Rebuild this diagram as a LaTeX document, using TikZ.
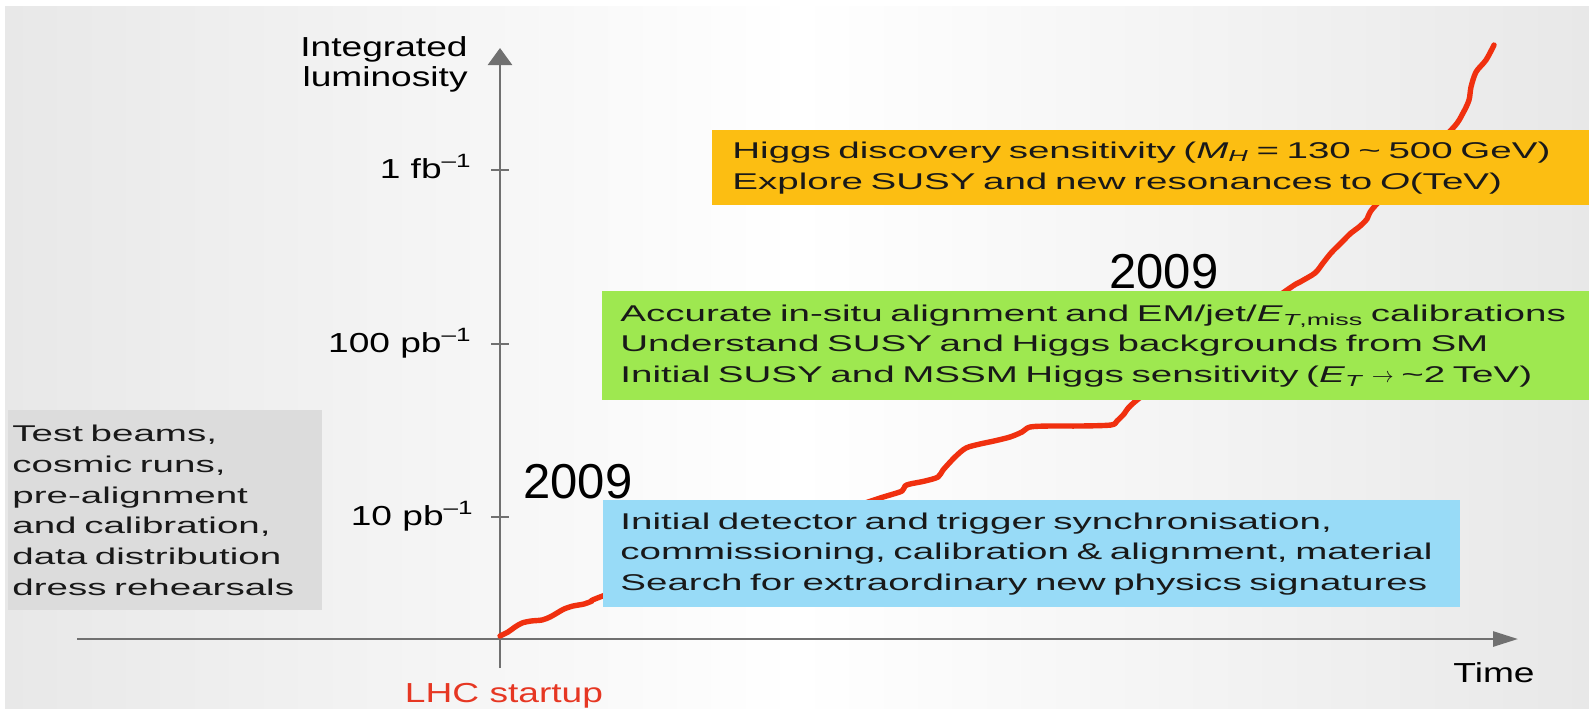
\documentclass[tikz,border=0pt]{standalone}
\usepackage{fontspec}
\setmainfont{Liberation Sans}
\newfontfamily\boxfont[FakeStretch=1.69]{Liberation Sans}
\newfontfamily\axisfont[FakeStretch=1.35]{Liberation Sans}
\usetikzlibrary{arrows.meta}

\definecolor{bggray}{RGB}{232,232,232}
\definecolor{axisgray}{RGB}{112,112,112}
\definecolor{curvered}{RGB}{240,48,15}
\definecolor{lhcred}{RGB}{230,55,35}
\definecolor{testgray}{RGB}{220,220,220}
\definecolor{phaseblue}{RGB}{152,219,247}
\definecolor{phasegreen}{RGB}{158,232,80}
\definecolor{phaseorange}{RGB}{252,190,18}

\begin{document}
\begin{tikzpicture}[x=0.5pt,y=-0.5pt]
\tikzstyle{axe}=[draw=axisgray,line width=1.35pt]
\tikzstyle{boite}=[anchor=north west,inner ysep=0pt,align=left,text=black!90,font=\boxfont\fontsize{11.4}{15.4}\selectfont]
\tikzstyle{lum}=[anchor=base east,inner sep=0pt,font=\axisfont\fontsize{13.75}{15}\selectfont]
\tikzstyle{annee}=[anchor=base west,inner sep=0pt,font=\fontsize{24.5}{28}\selectfont]
\tikzstyle{courbe}=[draw=curvered,line width=2.7pt,line cap=round,line join=round]

\useasboundingbox (0,0) rectangle (1589,708);
\shade[left color=bggray,right color=bggray,middle color=white] (5,6) rectangle (1589,708);

% axes
\coordinate (YB) at (500,668);
\coordinate (YT) at (500,48);
\coordinate (XL) at (77,639);
\coordinate (XR) at (1518,639);
\draw[axe,-{Triangle[length=8.5pt,width=12pt]}] (YB) -- (YT);
\draw[axe,-{Triangle[length=12.5pt,width=7.5pt]}] (XL) -- (XR);
\foreach \y in {170,344,517}
  \draw[axe] (491,\y) -- (509,\y);

\node[lum,anchor=east,align=right] (IL) at (468,64) {Integrated\\luminosity};
\node[lum] (L1) at (472,178) {1 fb\textsuperscript{–1}};
\node[lum] (L2) at (472,352) {100 pb\textsuperscript{–1}};
\node[lum] (L3) at (474,525) {10 pb\textsuperscript{–1}};
\node[lum,anchor=base] (T) at (1494,682) {Time};
\node[lum,anchor=base,text=lhcred] (LS) at (504,702) {LHC startup};

% luminosity curve, partly hidden by the boxes
\draw[courbe] plot[smooth,tension=0.5] coordinates {
  (500,636) (508,632) (515,627) (522,623) (531,621) (542,620) (550,617)
  (557,613) (564,609) (573,606) (584,604) (592,601) (600,597)
  (700,560) (800,525)
  (874,500) (890,495) (902,491) (905,486) (910,484) (925,481) (938,477)
  (943,470) (955,457) (966,448) (980,444) (994,441) (1010,437) (1022,432)
  (1030,427) (1050,426) (1080,426) (1111,425) (1117,421) (1124,414) (1137,400)
  (1210,345)
  (1287,290) (1300,282) (1315,273) (1323,263) (1331,253) (1341,243)
  (1351,233) (1359,227) (1367,219) (1374,207)
  (1415,165)
  (1453,128) (1463,113) (1469,100) (1471,87) (1476,72) (1486,60) (1494,45)};

\node[boite,fill=testgray,minimum width=157pt,minimum height=100pt,inner xsep=2pt,text width=153pt] (TB) at (8,410)
  {Test beams,\\ cosmic runs,\\ pre-alignment\\ and calibration,\\ data distribution\\ dress rehearsals};

\node[boite,fill=phaseblue,minimum width=428.5pt,minimum height=53.5pt,inner xsep=8.5pt,text width=411.5pt] (IS) at (603,500)
  {\mbox{Initial detector and trigger synchronisation,}\\
   \mbox{commissioning, calibration \& alignment, material}\\
   \mbox{Search for extraordinary new physics signatures}};

% these two run past the right edge of the page
\node[boite,fill=phasegreen,minimum height=54.5pt,inner xsep=9pt,text width=500pt] (AC) at (602,291)
  {Accurate in-situ alignment and EM/jet/\textit{E}\textsubscript{\textit{T},miss} calibrations\\
   Understand SUSY and Higgs backgrounds from SM\\
   Initial SUSY and MSSM Higgs sensitivity (\textit{E}\textsubscript{\textit{T}} $\rightarrow$ \textasciitilde2 TeV)};

\node[boite,fill=phaseorange,minimum height=37.5pt,inner xsep=10pt,text width=460pt] (HD) at (712,130)
  {Higgs discovery sensitivity (\textit{M}\textsubscript{\textit{H}} = 130 \textasciitilde{} 500 GeV)\\
   Explore SUSY and new resonances to \textit{O}(TeV)};

\node[annee] (A1) at (523,498) {2009};
\node[annee] (A2) at (1109,288) {2009};

\end{tikzpicture}
\end{document}
